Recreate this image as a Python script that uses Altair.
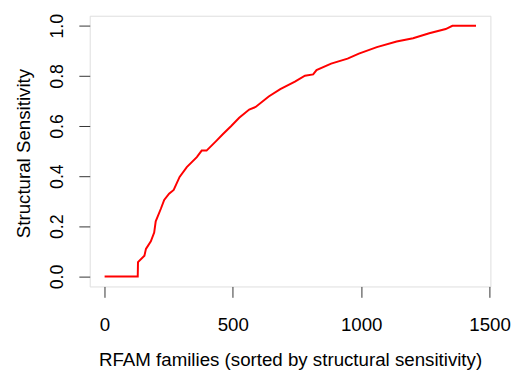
import altair as alt
import pandas as pd

# Sorted structural sensitivity values
families = [1, 130, 131, 156, 162, 181, 194, 200, 220, 233, 252, 270, 293, 321,
            360, 379, 398, 436, 462, 494, 525, 564, 589, 640, 685, 742, 781, 813,
            826, 883, 947, 991, 1061, 1138, 1202, 1265, 1329, 1355, 1447]
sensitivity = [0.0, 0.0, 0.057, 0.083, 0.11, 0.14, 0.175, 0.22, 0.27, 0.305, 0.33,
               0.345, 0.397, 0.436, 0.476, 0.502, 0.502, 0.541, 0.568, 0.600, 0.633,
               0.666, 0.676, 0.718, 0.747, 0.777, 0.801, 0.806, 0.823, 0.849, 0.869,
               0.889, 0.915, 0.937, 0.950, 0.970, 0.987, 1.0, 1.0]
x_ticks = [0, 500, 1000, 1500]
y_ticks = [0.0, 0.2, 0.4, 0.6, 0.8, 1.0]

df = pd.DataFrame({"family": families, "sens": sensitivity})

FONT = "Liberation Sans"
W, H = 407, 275

chart = alt.Chart(df).mark_line(color="#ff0000", strokeWidth=2).encode(
    x=alt.X("family:Q",
            scale=alt.Scale(domain=[-57, 1503], nice=False, zero=False),
            axis=alt.Axis(values=x_ticks, format="d",
                          title="RFAM families (sorted by structural sensitivity)",
                          grid=False, domain=False, tickSize=11, tickColor="#333",
                          labelFont=FONT, labelFontSize=19, labelColor="#000",
                          labelPadding=19, labelFlush=False, labelOverlap=False,
                          titleFont=FONT, titleFontSize=19, titleFontWeight="normal",
                          titleColor="#000", titleX=W / 2, titleY=80,
                          titleAlign="center", titleBaseline="alphabetic")),
    y=alt.Y("sens:Q",
            scale=alt.Scale(domain=[-0.04, 1.04], nice=False, zero=False),
            axis=alt.Axis(values=y_ticks, format=".1f", title="Structural Sensitivity",
                          grid=False, domain=False, tickSize=11, tickColor="#333",
                          labelFont=FONT, labelFontSize=18, labelColor="#000",
                          labelAngle=270, labelAlign="center", labelBaseline="alphabetic",
                          labelPadding=17, labelFlush=False, labelOverlap=False,
                          titleFont=FONT, titleFontSize=19, titleFontWeight="normal",
                          titleColor="#000", titleAngle=270, titleX=-61, titleY=H / 2 + 2,
                          titleAlign="center", titleBaseline="alphabetic")),
).properties(
    width=W, height=H,
    autosize=alt.AutoSizeParams(type="none"),
    padding={"left": 83, "top": 5, "right": 25, "bottom": 83},
).configure_view(
    stroke="#333", strokeWidth=1, fill="white"
).configure(background="white")

chart.save("out.html", embed_options={"renderer": "svg", "actions": False})
